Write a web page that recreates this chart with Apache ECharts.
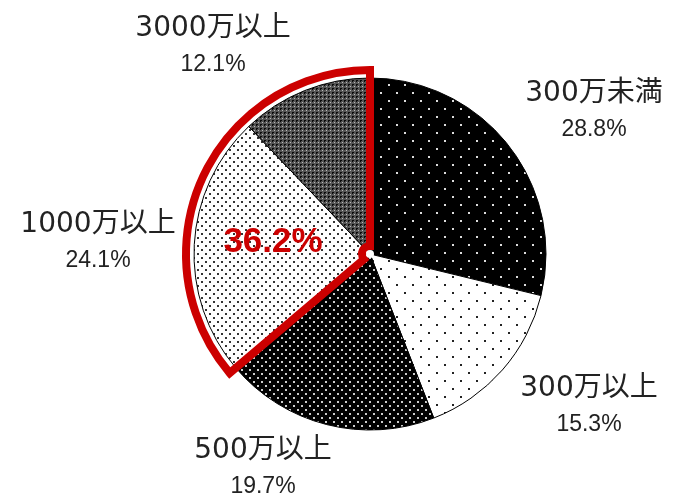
<!DOCTYPE html>
<html>
<head>
<meta charset="utf-8">
<script src="https://cdn.jsdelivr.net/npm/echarts@6/dist/echarts.min.js"></script>
<style>
html,body{margin:0;padding:0;background:#fff;}
#chart{width:675px;height:501px;}
</style>
</head>
<body>
<div id="chart"></div>
<script>
// ---- data ----
const categories = ['300万未満', '300万以上', '500万以上', '1000万以上', '3000万以上'];
const shares = [28.8, 15.3, 19.7, 24.1, 12.1];
const highlighted = [3, 4]; // 1000万以上 + 3000万以上

// ---- layout (label block centres, px) ----
const labelPos = [[594, 112], [589, 407], [263, 469], [98, 243], [213, 47]];
const highlightLabelPos = [273, 242];

function makeTile(w, h, bg, dotColor, dots, size) {
  const c = document.createElement('canvas');
  c.width = w; c.height = h;
  const ctx = c.getContext('2d');
  ctx.fillStyle = bg; ctx.fillRect(0, 0, w, h);
  ctx.fillStyle = dotColor;
  dots.forEach(d => ctx.fillRect(d[0], d[1], size, size));
  return c;
}
function hatchTile() {
  const c = document.createElement('canvas');
  c.width = 4; c.height = 4;
  const ctx = c.getContext('2d');
  ctx.fillStyle = '#555'; ctx.fillRect(0, 0, 4, 4);
  ctx.fillStyle = '#0a0a0a';
  ctx.fillRect(0, 0, 2, 1); ctx.fillRect(0, 0, 1, 2);
  ctx.fillStyle = '#bbb';
  ctx.fillRect(2, 2, 1, 1);
  return c;
}
const patterns = [
  makeTile(16, 16, '#000', '#ddd', [[4, 4], [12, 12]], 2),
  makeTile(16, 16, '#fff', '#222', [[4, 4], [12, 12]], 2),
  makeTile(8, 8, '#000', '#ccc', [[1, 1], [5, 5]], 2),
  makeTile(8, 8, '#fff', '#333', [[1, 1], [5, 5]], 2),
  hatchTile()
];

const total = shares.reduce((a, b) => a + b, 0);
const hiSum = highlighted.reduce((a, i) => a + shares[i], 0);

const chart = echarts.init(document.getElementById('chart'), null, {renderer: 'canvas'});
const center = [370, 254];
chart.setOption({
  animation: false,
  series: [
    {
      type: 'pie',
      center: center,
      radius: 176,
      startAngle: 90,
      clockwise: true,
      avoidLabelOverlap: false,
      silent: true,
      data: categories.map((n, i) => ({
        name: n,
        value: shares[i],
        itemStyle: {color: {image: patterns[i], repeat: 'repeat'}}
      })),
      itemStyle: {borderColor: '#000', borderWidth: 1},
      label: {
        show: true,
        position: 'outside',
        formatter: p => '{n|' + p.name + '}\n{p|' + p.value.toFixed(1) + '%}',
        rich: {
          n: {fontSize: 28, fontFamily: '"DejaVu Sans", "Noto Sans CJK JP"', color: '#222', lineHeight: 36, align: 'center'},
          p: {fontSize: 23, fontFamily: '"Liberation Sans", "Noto Sans CJK JP"', color: '#222', lineHeight: 36, align: 'center'}
        }
      },
      labelLine: {show: false},
      labelLayout: params => ({
        x: labelPos[params.dataIndex][0],
        y: labelPos[params.dataIndex][1],
        align: 'center',
        verticalAlign: 'middle'
      })
    },
    {
      type: 'pie',
      center: center,
      radius: [8, 184],
      startAngle: 90,
      clockwise: true,
      silent: true,
      avoidLabelOverlap: false,
      data: [
        {name: 'rest', value: total - hiSum, itemStyle: {color: 'rgba(0,0,0,0)', borderWidth: 0}, label: {show: false}},
        {name: 'hi', value: hiSum, itemStyle: {color: 'rgba(0,0,0,0)', borderColor: '#cc0000', borderWidth: 8, borderJoin: 'miter'}}
      ],
      label: {
        show: true,
        position: 'inside',
        formatter: p => p.value.toFixed(1) + '%',
        fontSize: 35,
        fontWeight: 'bold',
        fontFamily: '"Liberation Sans", Arial',
        color: '#cc0000'
      },
      labelLine: {show: false},
      labelLayout: params => params.dataIndex === 1 ? {
        x: highlightLabelPos[0], y: highlightLabelPos[1], align: 'center', verticalAlign: 'middle'
      } : {}
    },
    {
      type: 'pie',
      center: center,
      radius: 4,
      silent: true,
      data: [{value: 1, itemStyle: {color: '#fff'}}],
      label: {show: false},
      labelLine: {show: false}
    }
  ]
});
</script>
</body>
</html>
